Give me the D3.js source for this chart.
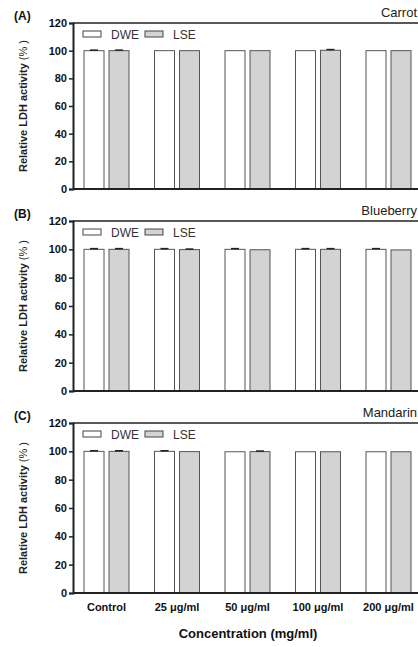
<!DOCTYPE html>
<html><head><meta charset="utf-8">
<script src="https://cdn.jsdelivr.net/npm/d3@7"></script>
<style>body{margin:0;background:#fff}svg{display:block}</style>
</head><body>
<svg id="c" width="418" height="647"></svg>
<script>
const categories = ["Control", "25 μg/ml", "50 μg/ml", "100 μg/ml", "200 μg/ml"];
const series = ["DWE", "LSE"];
const yTicks = [0, 20, 40, 60, 80, 100, 120];
const panelLabels = ["(A)", "(B)", "(C)"];
const panelTitles = ["Carrot", "Blueberry", "Mandarin"];
// values per panel: [DWE, LSE] per category
const carrotDWE = [100, 100, 100, 100, 100];
const carrotLSE = [100, 100, 100, 100.3, 100];
const carrotDWEerr = [0.4, 0, 0, 0, 0];
const carrotLSEerr = [0.4, 0, 0, 0.5, 0];
const blueberryDWE = [100, 100, 100, 100, 100];
const blueberryLSE = [100, 99.8, 99.7, 100, 99.6];
const blueberryDWEerr = [0.5, 0.5, 0.5, 0.5, 0.5];
const blueberryLSEerr = [0.5, 0.4, 0, 0.5, 0];
const mandarinDWE = [100, 100, 99.7, 99.7, 99.7];
const mandarinLSE = [100, 99.8, 99.8, 99.7, 99.7];
const mandarinDWEerr = [0.4, 0.4, 0, 0, 0];
const mandarinLSEerr = [0.4, 0, 0.4, 0, 0];

const panels = [
  {dwe: carrotDWE, lse: carrotLSE, de: carrotDWEerr, le: carrotLSEerr, top: 23, bottom: 189},
  {dwe: blueberryDWE, lse: blueberryLSE, de: blueberryDWEerr, le: blueberryLSEerr, top: 221, bottom: 391},
  {dwe: mandarinDWE, lse: mandarinLSE, de: mandarinDWEerr, le: mandarinLSEerr, top: 423, bottom: 593}
];

const svg = d3.select("#c");
const font = "Arial, 'Liberation Sans', sans-serif";
const axisX = 73, rightX = 420;
const x = d3.scaleBand().domain(categories).range([71.25, 423.75]).paddingInner(0).paddingOuter(0);
const sub = d3.scaleBand().domain(series).range([-22.5, 22.5]).paddingInner(0.2).paddingOuter(0);
const fills = {DWE: "#ffffff", LSE: "#d3d3d3"};

panels.forEach((p, pi) => {
  const y = d3.scaleLinear().domain([0, 120]).range([p.bottom, p.top]);
  const g = svg.append("g");
  // bars
  categories.forEach((c, i) => {
    series.forEach(s => {
      const v = s === "DWE" ? p.dwe[i] : p.lse[i];
      const e = s === "DWE" ? p.de[i] : p.le[i];
      const bx = x(c) + x.bandwidth() / 2 + sub(s);
      g.append("rect").attr("x", bx).attr("y", y(v)).attr("width", sub.bandwidth())
        .attr("height", y(0) - y(v)).attr("fill", fills[s]).attr("stroke", "#555").attr("stroke-width", 1);
      if (e > 0) {
        const cx = bx + sub.bandwidth() / 2;
        g.append("line").attr("x1", cx).attr("x2", cx).attr("y1", y(v)).attr("y2", y(v + e)).attr("stroke", "#222").attr("stroke-width", 1);
        g.append("line").attr("x1", cx - 4).attr("x2", cx + 4).attr("y1", y(v + e)).attr("y2", y(v + e)).attr("stroke", "#222").attr("stroke-width", 1.5);
      }
    });
  });
  // frame: top, left, bottom
  g.append("line").attr("x1", axisX).attr("x2", rightX).attr("y1", p.top).attr("y2", p.top).attr("stroke", "#222").attr("stroke-width", 1.5);
  g.append("line").attr("x1", axisX).attr("x2", rightX).attr("y1", p.bottom).attr("y2", p.bottom).attr("stroke", "#222").attr("stroke-width", 2);
  // y axis
  const ax = g.append("g").attr("transform", `translate(${axisX},0)`)
    .call(d3.axisLeft(y).tickValues(yTicks).tickSize(4).tickPadding(2));
  ax.select(".domain").attr("stroke", "#222").attr("stroke-width", 2);
  ax.selectAll(".tick line").attr("stroke", "#222").attr("stroke-width", 1.5);
  ax.selectAll(".tick text").attr("font-family", font).attr("font-size", 11).attr("font-weight", "bold").attr("fill", "#111");
  // y title
  const t = g.append("text").attr("transform", `translate(27,${(p.top + p.bottom) / 2}) rotate(-90)`)
    .attr("text-anchor", "middle").attr("font-family", font).attr("font-size", 11).attr("font-weight", "bold").attr("fill", "#222");
  t.append("tspan").text("Relative LDH activity ");
  t.append("tspan").attr("font-weight", "normal").text("(% )");
  // panel label
  g.append("text").attr("x", 14).attr("y", p.top - 3).attr("font-family", font).attr("font-size", 12).attr("font-weight", "bold").attr("fill", "#111").text(panelLabels[pi]);
  // panel title
  g.append("text").attr("x", 417).attr("y", p.top - 6).attr("text-anchor", "end").attr("font-family", font).attr("font-size", 13).attr("fill", "#222").text(panelTitles[pi]);
  // legend
  const ly = p.top + 11;
  const legX = [83, 145];
  series.forEach((s, si) => {
    g.append("rect").attr("x", legX[si]).attr("y", ly - 3).attr("width", 18).attr("height", 6)
      .attr("fill", fills[s]).attr("stroke", "#444").attr("stroke-width", 1);
    g.append("text").attr("x", legX[si] + 28).attr("y", ly + 4.5).attr("font-family", font).attr("font-size", 12).attr("fill", "#333").text(s);
  });
  // x labels only for last panel
  if (pi === 2) {
    categories.forEach(c => {
      g.append("text").attr("x", x(c) + x.bandwidth() / 2).attr("y", p.bottom + 18).attr("text-anchor", "middle")
        .attr("font-family", font).attr("font-size", 11).attr("font-weight", "bold").attr("fill", "#111").text(c);
    });
    g.append("text").attr("x", 248).attr("y", p.bottom + 45).attr("text-anchor", "middle")
      .attr("font-family", font).attr("font-size", 13).attr("font-weight", "bold").attr("fill", "#111").text("Concentration (mg/ml)");
  }
});
</script>
</body></html>
